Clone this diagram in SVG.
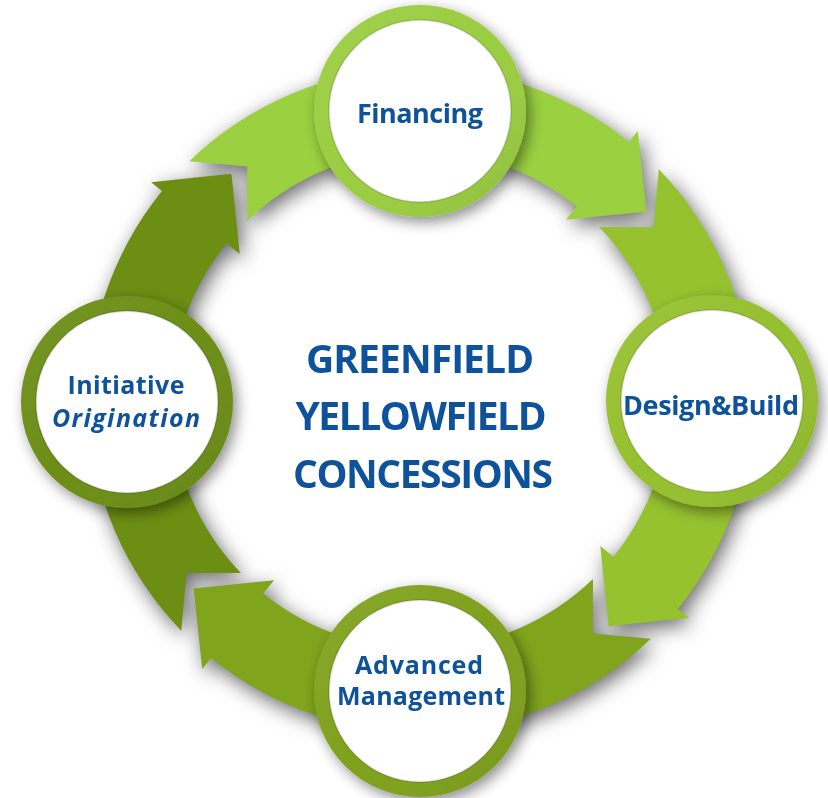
<svg xmlns="http://www.w3.org/2000/svg" xmlns:xlink="http://www.w3.org/1999/xlink" width="828" height="798" viewBox="0 0 828 798">
<defs>
  <style>
    .lbl { font-family: "Open Sans", "Noto Sans", "Liberation Sans", sans-serif; font-weight: 700; fill: #0E529C; text-anchor: middle; }
    .node-text { font-size: 27px; }
    .node-text2 { font-size: 25px; }
    .center-text { font-size: 39px; }
    .inner { fill: #ffffff; stroke: #000000; stroke-opacity: 0.12; stroke-width: 2; }
    .shade { fill: url(#ringShade); }
  </style>
  <filter id="shadowOnly" x="-15%" y="-15%" width="130%" height="130%">
    <feGaussianBlur in="SourceAlpha" stdDeviation="10"/>
    <feOffset dx="4" dy="6" result="b"/>
    <feFlood flood-color="#000000" flood-opacity="0.6"/>
    <feComposite in2="b" operator="in"/>
  </filter>
  <filter id="circShadow" x="-30%" y="-30%" width="160%" height="160%">
    <feDropShadow dx="4" dy="5" stdDeviation="7" flood-color="#000000" flood-opacity="0.45"/>
  </filter>
  <linearGradient id="ringShade" x1="0" y1="0" x2="1" y2="1">
    <stop offset="0" stop-color="#ffffff" stop-opacity="0.08"/>
    <stop offset="0.5" stop-color="#ffffff" stop-opacity="0"/>
    <stop offset="1" stop-color="#000000" stop-opacity="0.10"/>
  </linearGradient>
  <path id="arrow" d="M 181.18 630.63 L 186.48 572.80 L 240.88 572.97 A 249 249 0 0 1 226.49 243.30 L 239.70 254.00 L 231.42 173.66 L 151.11 182.26 L 161.99 191.07 A 332 332 0 0 0 181.18 630.63 Z"/>
</defs>
<rect width="828" height="798" fill="#ffffff"/>

<g id="connectors">
  <g filter="url(#shadowOnly)">
    <use xlink:href="#arrow" transform="rotate(90 420 400)"/>
    <use xlink:href="#arrow" transform="rotate(180 420 400)"/>
    <use xlink:href="#arrow" transform="rotate(270 420 400)"/>
    <use xlink:href="#arrow"/>
  </g>
  <use id="arrow-financing-design" xlink:href="#arrow" transform="rotate(90 420 400)" fill="#9BD140"/>
  <use id="arrow-design-management" xlink:href="#arrow" transform="rotate(180 420 400)" fill="#96C22F"/>
  <use id="arrow-management-initiative" xlink:href="#arrow" transform="rotate(270 420 400)" fill="#80A41C"/>
  <use id="arrow-initiative-financing" xlink:href="#arrow" fill="#6B8E13"/>
</g>

<g id="node-financing">
  <circle cx="420" cy="111" r="106" fill="#9ACD3F" filter="url(#circShadow)"/>
  <circle cx="420" cy="111" r="106" class="shade"/>
  <circle cx="420" cy="111" r="91" class="inner"/>
  <text x="420" y="123" class="lbl node-text" textLength="126">Financing</text>
</g>

<g id="node-design-build">
  <circle cx="712" cy="401" r="106" fill="#95C02E" filter="url(#circShadow)"/>
  <circle cx="712" cy="401" r="106" class="shade"/>
  <circle cx="712" cy="401" r="91" class="inner"/>
  <text x="711" y="415" class="lbl node-text" textLength="176">Design&amp;Build</text>
</g>

<g id="node-advanced-management">
  <circle cx="420" cy="691" r="106" fill="#7FA11C" filter="url(#circShadow)"/>
  <circle cx="420" cy="691" r="106" class="shade"/>
  <circle cx="420" cy="691" r="91" class="inner"/>
  <text x="419" y="674" class="lbl node-text2" textLength="128">Advanced</text>
  <text x="421" y="705" class="lbl node-text2" textLength="168">Management</text>
</g>

<g id="node-initiative-origination">
  <circle cx="127" cy="402" r="106" fill="#6C8E16" filter="url(#circShadow)"/>
  <circle cx="127" cy="402" r="106" class="shade"/>
  <circle cx="127" cy="402" r="91" class="inner"/>
  <text x="126" y="394" class="lbl node-text2" textLength="117">Initiative</text>
  <text x="126" y="427" class="lbl node-text2" font-style="italic" textLength="148">Origination</text>
</g>

<g id="center-title">
  <text x="420" y="373" class="lbl center-text" textLength="228">GREENFIELD</text>
  <text x="421" y="430" class="lbl center-text" textLength="251">YELLOWFIELD</text>
  <text x="423" y="488" class="lbl center-text" textLength="260">CONCESSIONS</text>
</g>
</svg>
